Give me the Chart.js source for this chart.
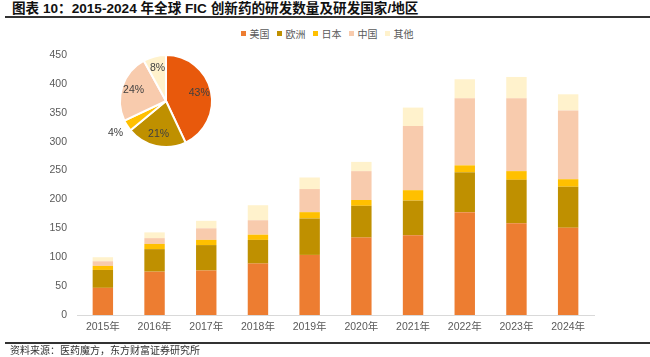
<!DOCTYPE html>
<html><head><meta charset="utf-8">
<script src="https://cdn.jsdelivr.net/npm/chart.js@4"></script>
<style>
html,body{margin:0;padding:0;}
body{width:650px;height:357px;overflow:hidden;background:#fff;position:relative;font-family:"Liberation Sans","Noto Sans CJK SC",sans-serif;}
#title{position:absolute;left:12px;top:0px;font-size:13.6px;font-weight:bold;color:#111;white-space:nowrap;line-height:18px;}
.rule{position:absolute;left:5px;right:0;height:1.5px;background:#333;}
#legend{position:absolute;left:241px;top:26px;height:14px;display:flex;align-items:center;font-family:"Noto Sans CJK SC",sans-serif;font-size:10px;color:#595959;white-space:nowrap;}
#legend .it{display:flex;align-items:center;margin-right:7.5px;}
#legend .sw{width:5px;height:5px;margin-right:3.5px;}
#src{position:absolute;left:10px;top:343px;font-family:"Noto Sans CJK SC",sans-serif;font-size:10px;color:#333;line-height:14px;white-space:nowrap;}
#bar{position:absolute;left:0;top:0;}
#pie{position:absolute;left:96px;top:31px;z-index:2;}
</style></head>
<body>
<div id="title">图表 10：2015-2024 年全球 FIC 创新药的研发数量及研发国家/地区</div>
<div class="rule" style="top:16px"></div>
<div id="legend"></div>
<canvas id="bar" width="650" height="357"></canvas>
<canvas id="pie" width="140" height="140"></canvas>
<div class="rule" style="top:342px"></div>
<div id="src">资料来源：医药魔方，东方财富证券研究所</div>
<script>
const years = ['2015年','2016年','2017年','2018年','2019年','2020年','2021年','2022年','2023年','2024年'];
const seriesNames = ['美国','欧洲','日本','中国','其他'];
const usa    = [47, 75, 77, 89, 104, 134, 138, 178, 159, 151];
const europe = [31, 39, 44, 41, 63, 55, 60, 69, 75, 71];
const japan  = [7, 9, 9, 9, 11, 10, 18, 12, 15, 13];
const china  = [8, 10, 20, 25, 40, 50, 111, 116, 126, 119];
const other  = [7, 10, 13, 26, 20, 16, 32, 33, 37, 28];
const pieShares = [43, 21, 4, 24, 8];
const yTicks = [0, 50, 100, 150, 200, 250, 300, 350, 400, 450];

const barColors = ['#ED7D31','#BF9000','#FFC000','#F8CBAD','#FFF2CC'];
const pieColors = ['#E8590C','#BF9000','#FFC000','#F8CBAD','#FFF2CC'];
const allSeries = [usa, europe, japan, china, other];

// legend
const lg = document.getElementById('legend');
seriesNames.forEach((n,i)=>{
  const it = document.createElement('div'); it.className='it';
  const sw = document.createElement('div'); sw.className='sw'; sw.style.background = barColors[i];
  const tx = document.createElement('span'); tx.textContent = n;
  it.appendChild(sw); it.appendChild(tx); lg.appendChild(it);
});

Chart.defaults.font.family = '"Liberation Sans","Noto Sans CJK SC",sans-serif';

new Chart(document.getElementById('bar'), {
  type: 'bar',
  data: {
    labels: years,
    datasets: allSeries.map((d,i)=>({
      label: seriesNames[i], data: d, backgroundColor: barColors[i],
      borderWidth: 0, categoryPercentage: 1, barPercentage: 0.395
    }))
  },
  options: {
    responsive: false, animation: false, devicePixelRatio: 1,
    layout: {padding: {left: 0, right: 56, top: 55, bottom: 0}},
    plugins: {legend: {display: false}, tooltip: {enabled: false}},
    scales: {
      x: {
        stacked: true,
        grid: {display: false, drawTicks: false},
        border: {display: true, color: '#D9D9D9', width: 1},
        ticks: {color: '#595959', font: {size: 10.5}, padding: 6, maxRotation: 0, autoSkip: false},
        afterFit: s => { s.height = 42; }
      },
      y: {
        stacked: true, min: yTicks[0], max: yTicks[yTicks.length-1],
        grid: {display: false, drawTicks: false},
        border: {display: false},
        afterBuildTicks: s => { s.ticks = yTicks.map(v=>({value:v})); },
        ticks: {color: '#595959', font: {size: 10.5}, padding: 10},
        afterFit: s => { s.width = 77; }
      }
    }
  }
});

const pieLabels = {
  id: 'pieLabels',
  afterDatasetsDraw(chart) {
    const ctx = chart.ctx;
    const meta = chart.getDatasetMeta(0);
    ctx.save();
    ctx.font = '10.5px "Liberation Sans", sans-serif';
    ctx.fillStyle = '#404040';
    ctx.textAlign = 'center'; ctx.textBaseline = 'middle';
    meta.data.forEach((arc, i) => {
      const v = chart.data.datasets[0].data[i];
      const mid = (arc.startAngle + arc.endAngle) / 2;
      const f = v < 6 ? 1.3 : 0.74;
      const r = arc.outerRadius * f;
      ctx.fillText(v + '%', arc.x + Math.cos(mid) * r, arc.y + Math.sin(mid) * r);
    });
    ctx.restore();
  }
};

new Chart(document.getElementById('pie'), {
  type: 'pie',
  data: {labels: seriesNames, datasets: [{data: pieShares, backgroundColor: pieColors, borderColor: '#fff', borderWidth: 2}]},
  options: {
    responsive: false, animation: false, devicePixelRatio: 1,
    layout: {padding: 23},
    plugins: {legend: {display: false}, tooltip: {enabled: false}}
  },
  plugins: [pieLabels]
});
</script>
</body></html>
